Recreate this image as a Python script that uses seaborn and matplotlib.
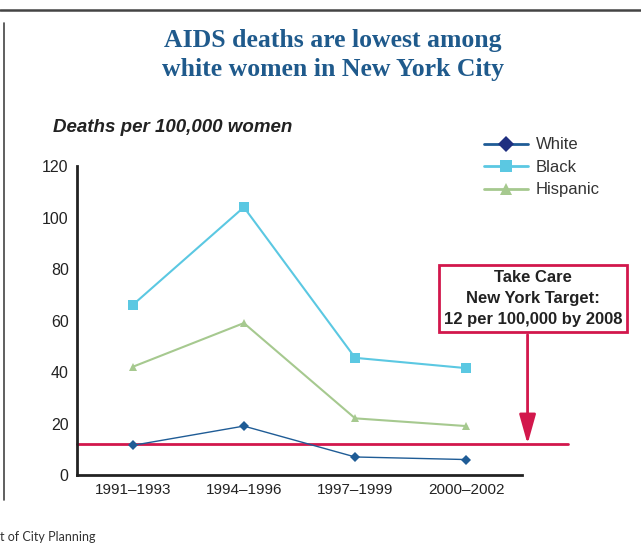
import matplotlib
matplotlib.use("Agg")
import matplotlib.pyplot as plt
import seaborn as sns
import pandas as pd
from matplotlib.lines import Line2D

periods = ["1991\u20131993", "1994\u20131996", "1997\u20131999", "2000\u20132002"]
white = [11.5, 19, 7, 6]
black = [66, 104, 45.5, 41.5]
hispanic = [42, 59, 22, 19]
groups = ["White", "Black", "Hispanic"]
target = 12
yticks = [0, 20, 40, 60, 80, 100, 120]

df = pd.DataFrame({
    "period": periods * 3,
    "rate": white + black + hispanic,
    "group": ["White"] * 4 + ["Black"] * 4 + ["Hispanic"] * 4,
})

sns.set_theme(style="white")
plt.rcParams["font.family"] = ["Liberation Sans", "DejaVu Sans"]

colors = {"White": "#1F5C96", "Black": "#5BC8E2", "Hispanic": "#A6C98F"}
markers = {"White": "D", "Black": "s", "Hispanic": "^"}
red = "#D2174C"

fig = plt.figure(figsize=(6.41, 5.5), dpi=100)
ax = fig.add_axes([77 / 641, 1 - 475 / 550, 445 / 641, 309 / 550])

for g, lw, ms in [("Hispanic", 1.5, 6), ("Black", 1.5, 7), ("White", 1.0, 5)]:
    sub = df[df["group"] == g]
    sns.lineplot(data=sub, x="period", y="rate", ax=ax, color=colors[g],
                 marker=markers[g], markersize=ms, markeredgewidth=0,
                 linewidth=lw, sort=False, label=g, legend=False)

ax.set_xlim(-0.5, 3.5)
ax.set_ylim(0, 120)
ax.set_yticks(yticks)
ax.set_xticks(range(4))
ax.set_xticklabels(periods)
ax.set_xticks([0.5, 1.5, 2.5, 3.5], minor=True)
ax.tick_params(axis="x", which="major", length=0, pad=6, labelsize=11, colors="#222222")
ax.tick_params(axis="x", which="minor", length=4, width=1.5, direction="out", color="#222222")
ax.tick_params(axis="y", length=4, width=1.2, direction="out", labelsize=11.5, colors="#222222", pad=2)
ax.set_xlabel("")
ax.set_ylabel("")
for s in ["top", "right"]:
    ax.spines[s].set_visible(False)
for s in ["left", "bottom"]:
    ax.spines[s].set_color("#222222")
    ax.spines[s].set_linewidth(2)

# target line
ax.plot([-0.5, 3.91], [target, target], color=red, linewidth=2, clip_on=False, zorder=1)

# target box and arrow
ax.annotate("", xy=(3.55, target), xytext=(3.55, 54.5),
            arrowprops=dict(arrowstyle="-|>,head_length=1.0,head_width=0.28", color=red, lw=2,
                            mutation_scale=18, shrinkA=0, shrinkB=0), annotation_clip=False)
ax.text(3.60, 68.5, "Take Care\nNew York Target:\n12 per 100,000 by 2008",
        ha="center", va="center", fontsize=12, fontweight="bold", color="#222222",
        linespacing=1.5, clip_on=False,
        bbox=dict(boxstyle="square,pad=0.3", facecolor="white", edgecolor=red, linewidth=2))

# legend
handles = [Line2D([0], [0], color=colors[g], marker=markers[g], markersize=ms, linewidth=2,
                  markeredgewidth=0, markerfacecolor=("#1F2F80" if g == "White" else colors[g]))
           for g, ms in zip(groups, [8, 8, 8])]
fig.legend(handles, groups, loc="upper left", bbox_to_anchor=(476 / 641, 1 - 129 / 550),
           frameon=False, fontsize=12, handlelength=2.6, handletextpad=0.5,
           labelspacing=0.45, borderpad=0, labelcolor="#333333")

# titles
fig.text(333 / 641, 1 - 55 / 550, "AIDS deaths are lowest among\nwhite women in New York City",
         ha="center", va="center", fontsize=18.5, fontweight="bold", color="#1F5A8C",
         family=["Liberation Serif", "DejaVu Serif"], linespacing=1.3)
fig.text(53 / 641, 1 - 127 / 550, "Deaths per 100,000 women", ha="left", va="center",
         fontsize=13.5, fontweight="bold", style="italic", color="#222222")
fig.text(0, 1 - 537 / 550, "t of City Planning", ha="left", va="center",
         fontsize=9, color="#333333", family=["Lato", "DejaVu Sans"])

# frame lines
fig.add_artist(Line2D([0, 1], [1 - 10 / 550, 1 - 10 / 550], color="#444444", linewidth=1.8,
                      transform=fig.transFigure))
fig.add_artist(Line2D([4 / 641, 4 / 641], [1 - 23 / 550, 1 - 500 / 550], color="#444444",
                      linewidth=1.2, transform=fig.transFigure))

fig.savefig("out.png", dpi=100)
